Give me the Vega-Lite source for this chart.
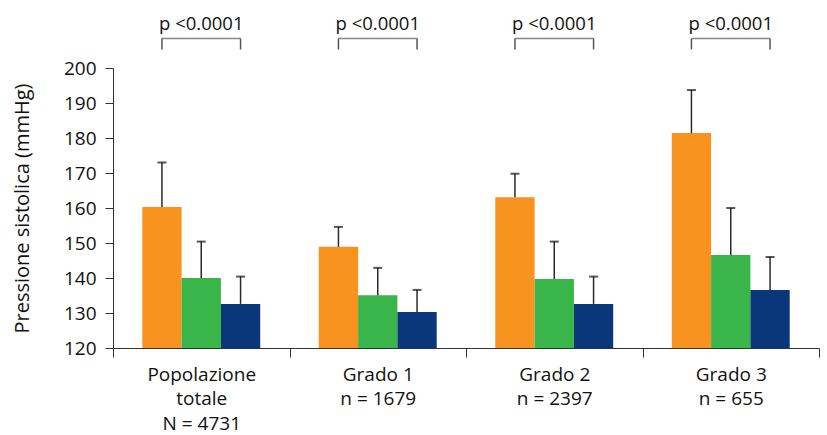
{
  "$schema": "https://vega.github.io/schema/vega-lite/v6.json",
  "width": 706,
  "height": 280,
  "autosize": "none",
  "padding": {"left": 113, "top": 68, "right": 8, "bottom": 87},
  "config": {
    "font": "Open Sans",
    "view": {"stroke": null},
    "axis": {"grid": false, "labelFont": "Open Sans", "titleFont": "Open Sans", "labelColor": "#111", "titleColor": "#111", "domainColor": "#333", "tickColor": "#333", "labelOverlap": false}
  },
  "datasets": {
    "bars": [
      {"group": "Popolazione|totale|N = 4731", "series": "t0", "value": 160.3, "err": 173.0},
      {"group": "Popolazione|totale|N = 4731", "series": "t1", "value": 140.0, "err": 150.4},
      {"group": "Popolazione|totale|N = 4731", "series": "t2", "value": 132.6, "err": 140.4},
      {"group": "Grado 1|n = 1679", "series": "t0", "value": 148.9, "err": 154.6},
      {"group": "Grado 1|n = 1679", "series": "t1", "value": 135.1, "err": 142.9},
      {"group": "Grado 1|n = 1679", "series": "t2", "value": 130.3, "err": 136.6},
      {"group": "Grado 2|n = 2397", "series": "t0", "value": 163.1, "err": 169.8},
      {"group": "Grado 2|n = 2397", "series": "t1", "value": 139.7, "err": 150.4},
      {"group": "Grado 2|n = 2397", "series": "t2", "value": 132.6, "err": 140.4},
      {"group": "Grado 3|n = 655", "series": "t0", "value": 181.4, "err": 193.7},
      {"group": "Grado 3|n = 655", "series": "t1", "value": 146.6, "err": 160.0},
      {"group": "Grado 3|n = 655", "series": "t2", "value": 136.6, "err": 146.0}
    ],
    "pvals": [
      {"group": "Popolazione|totale|N = 4731", "series": "t1", "p": "p <0.0001"},
      {"group": "Grado 1|n = 1679", "series": "t1", "p": "p <0.0001"},
      {"group": "Grado 2|n = 2397", "series": "t1", "p": "p <0.0001"},
      {"group": "Grado 3|n = 655", "series": "t1", "p": "p <0.0001"}
    ]
  },
  "encoding": {
    "x": {
      "field": "group",
      "type": "nominal",
      "sort": null,
      "scale": {"domain": ["Popolazione|totale|N = 4731", "Grado 1|n = 1679", "Grado 2|n = 2397", "Grado 3|n = 655"], "paddingInner": 0, "paddingOuter": 0},
      "axis": {"title": null, "labelAngle": 0, "labelExpr": "split(datum.label, '|')", "labelFontSize": 19, "labelLineHeight": 24.5, "labelBaseline": "top", "labelPadding": 8, "tickBand": "extent", "tickSize": 9, "labelLimit": 200}
    },
    "xOffset": {"field": "series", "type": "nominal", "scale": {"domain": ["t0", "t1", "t2"], "paddingInner": 0, "paddingOuter": 0.745}}
  },
  "layer": [
    {
      "data": {"name": "bars"},
      "mark": {"type": "bar"},
      "encoding": {
        "y": {
          "field": "value",
          "type": "quantitative",
          "scale": {"domain": [120, 200], "zero": false, "nice": false},
          "axis": {"title": "Pressione sistolica (mmHg)", "values": [120, 130, 140, 150, 160, 170, 180, 190, 200], "labelOverlap": false, "tickSize": 8, "labelPadding": 9, "labelFontSize": 19, "titleFontSize": 20, "titleFontWeight": "normal", "titleX": -91, "titleY": 140, "titleAnchor": "middle", "titleBaseline": "middle"}
        },
        "y2": {"datum": 120},
        "color": {"field": "series", "type": "nominal", "legend": null, "scale": {"domain": ["t0", "t1", "t2"], "range": ["#F7931E", "#3AB54A", "#0A367A"]}}
      }
    },
    {
      "data": {"name": "bars"},
      "mark": {"type": "rule", "color": "#2a2a2a", "strokeWidth": 1.5},
      "encoding": {
        "y": {"field": "value", "type": "quantitative", "axis": {"title": "Pressione sistolica (mmHg)", "values": [120, 130, 140, 150, 160, 170, 180, 190, 200], "labelOverlap": false}},
        "y2": {"field": "err"}
      }
    },
    {
      "data": {"name": "bars"},
      "mark": {"type": "tick", "color": "#111", "thickness": 2, "size": 9, "orient": "horizontal"},
      "encoding": {
        "y": {"field": "err", "type": "quantitative", "axis": {"title": "Pressione sistolica (mmHg)", "values": [120, 130, 140, 150, 160, 170, 180, 190, 200], "labelOverlap": false}}
      }
    },
    {
      "data": {"name": "bars"},
      "transform": [{"filter": "datum.series != 't1'"}],
      "mark": {"type": "rule", "color": "#555", "strokeWidth": 1.5},
      "encoding": {
        "y": {"datum": 205.3, "axis": {"title": "Pressione sistolica (mmHg)", "values": [120, 130, 140, 150, 160, 170, 180, 190, 200], "labelOverlap": false}},
        "y2": {"datum": 208.4}
      }
    },
    {
      "data": {"name": "pvals"},
      "mark": {"type": "tick", "color": "#555", "thickness": 1.5, "size": 79, "orient": "horizontal"},
      "encoding": {
        "y": {"datum": 208.4, "axis": {"title": "Pressione sistolica (mmHg)", "values": [120, 130, 140, 150, 160, 170, 180, 190, 200], "labelOverlap": false}}
      }
    },
    {
      "data": {"name": "pvals"},
      "mark": {"type": "text", "fontSize": 18.5, "color": "#111", "baseline": "alphabetic", "align": "center"},
      "encoding": {
        "y": {"datum": 210.9, "axis": {"title": "Pressione sistolica (mmHg)", "values": [120, 130, 140, 150, 160, 170, 180, 190, 200], "labelOverlap": false}},
        "text": {"field": "p"}
      }
    }
  ]
}
